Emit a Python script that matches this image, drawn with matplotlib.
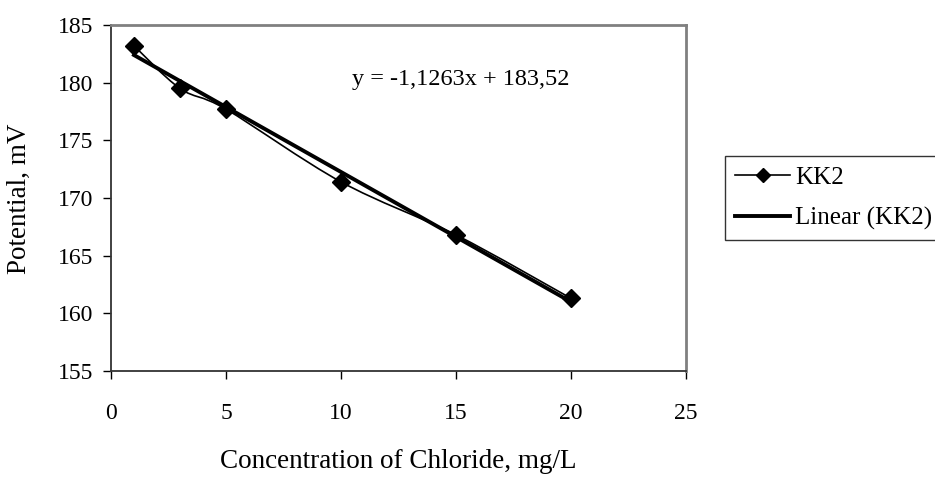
import matplotlib.pyplot as plt
import numpy as np
from matplotlib.path import Path
from matplotlib.patches import PathPatch

# Chloride concentration (mg/L) and measured potential (mV) for electrode KK2
concentration = [1, 3, 5, 10, 15, 20]
potential = [183.2, 179.5, 177.7, 171.4, 166.8, 161.3]

# trendline as reported on the chart
slope = -1.1263
intercept = 183.52
equation = "y = -1,1263x + 183,52"

x_ticks = [0, 5, 10, 15, 20, 25]
y_ticks = [155, 160, 165, 170, 175, 180, 185]

plt.rcParams['font.family'] = ['Liberation Serif', 'DejaVu Serif']

fig = plt.figure(figsize=(9.35, 4.79), dpi=100)
ax = fig.add_axes([111 / 935, 1 - 371 / 479, (686 - 111) / 935, (371 - 25) / 479])

# smoothed line through the points (Excel style bezier)
pts = np.column_stack([concentration, potential]).astype(float)
verts = [tuple(pts[0])]
codes = [Path.MOVETO]
n = len(pts)
for i in range(n - 1):
    p0 = pts[i - 1] if i > 0 else pts[i]
    p1 = pts[i]
    p2 = pts[i + 1]
    p3 = pts[i + 2] if i + 2 < n else pts[i + 1]
    c1 = p1 + (p2 - p0) / 6
    c2 = p2 - (p3 - p1) / 6
    verts += [tuple(c1), tuple(c2), tuple(p2)]
    codes += [Path.CURVE4] * 3
ax.add_patch(PathPatch(Path(verts, codes), fill=False, edgecolor='black', lw=1.2, zorder=3))
ax.plot(concentration, potential, linestyle='none', marker='D', color='black', ms=9, zorder=4)

# linear trendline
xs = np.array([concentration[0], concentration[-1]])
ax.plot(xs, slope * xs + intercept, color='black', lw=2.8, zorder=2)

ax.text(10.5, 180.3, equation, fontsize=17.5, va='center', ha='left')

ax.set_xlim(0, 25)
ax.set_ylim(155, 185)
ax.set_xticks(x_ticks)
ax.set_yticks(y_ticks)
ax.tick_params(labelsize=17, length=6, width=1, direction='out', pad=17)
ax.tick_params(axis='y', pad=7)

for side in ['top', 'right']:
    ax.spines[side].set_color('#808080')
    ax.spines[side].set_linewidth(2)
for side in ['left', 'bottom']:
    ax.spines[side].set_color('#333333')
    ax.spines[side].set_linewidth(1.3)

ax.set_xlabel('Concentration of Chloride, mg/L', fontsize=19.5)
ax.set_ylabel('Potential, mV', fontsize=19.5)
ax.xaxis.label.set_va('center')
ax.xaxis.set_label_coords(398 / 935, 1 - 462 / 479, transform=fig.transFigure)
ax.yaxis.label.set_va('center')
ax.yaxis.set_label_coords(19 / 935, 1 - 199 / 479, transform=fig.transFigure)

# legend entries
h1, = ax.plot([], [], color='black', lw=1.2, marker='D', ms=7)
h2, = ax.plot([], [], color='black', lw=2.8)
leg = fig.legend([h1, h2], ['KK2', 'Linear (KK2)'], loc='upper left',
                 bbox_to_anchor=(725 / 935, 1 - 156 / 479), fontsize=18,
                 frameon=True, fancybox=False, edgecolor='black',
                 handlelength=2.2, handletextpad=0.2, borderpad=0.4,
                 labelspacing=0.75, borderaxespad=0)
leg.get_frame().set_linewidth(1)

fig.savefig('out.png', dpi=100)
